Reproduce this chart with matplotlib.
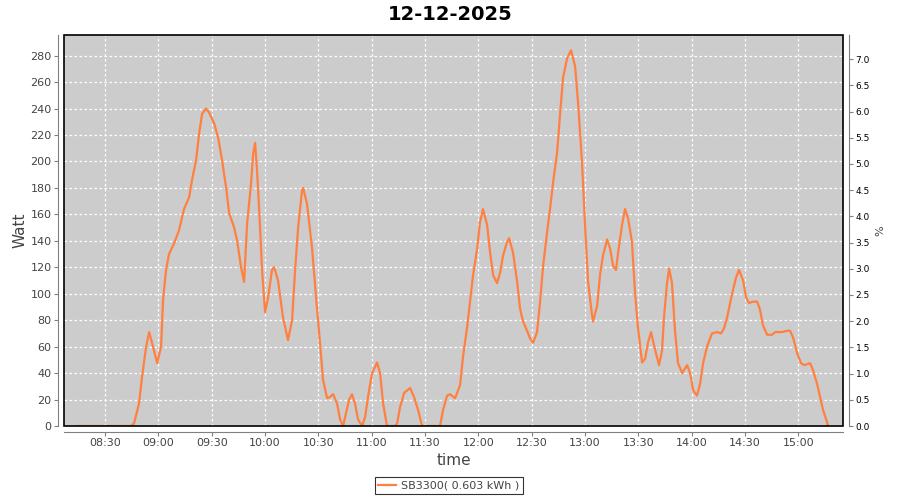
import matplotlib
matplotlib.use("Agg")
import matplotlib.pyplot as plt
from matplotlib.patches import Rectangle
from matplotlib.ticker import FuncFormatter, MultipleLocator
import numpy as np

title = "12-12-2025"
series_label = "SB3300( 0.603 kWh )"

# minutes after 08:00 and power in Watt
minutes = [
    14.3, 40.7, 44.6, 46.3, 49.1, 50.8, 53.1, 54.8, 56.4, 59.3, 61.5, 62.6,
    64.3, 66.0, 68.8, 71.6, 74.4, 77.3, 78.9, 81.2, 82.9, 84.6, 86.8, 88.5,
    91.3, 93.6, 95.8, 98.1, 99.8, 102.6, 104.3, 106.5, 108.2, 109.9, 112.1,
    113.3, 114.4, 115.5, 117.2, 118.3, 120.0, 121.7, 123.9, 125.1, 127.3,
    130.1, 132.9, 135.2, 136.9, 138.6, 140.8, 141.4, 143.6, 146.4, 148.7,
    150.9, 152.6, 154.9, 156.6, 158.3, 160.5, 162.2, 163.9, 165.6, 167.3,
    168.9, 170.6, 172.3, 174.6, 176.3, 177.9, 180.2, 183.0, 184.7, 186.4,
    188.6, 193.1, 194.3, 195.9, 198.2, 201.6, 203.8, 206.1, 208.3, 218.4,
    220.1, 222.4, 224.1, 226.9, 229.7, 231.4, 233.6, 235.3, 237.0, 239.3,
    240.9, 242.6, 244.9, 246.6, 248.3, 250.5, 252.2, 253.9, 256.1, 257.3,
    259.5, 261.8, 263.4, 265.1, 267.4, 269.1, 270.8, 273.0, 274.7, 276.4,
    278.6, 280.3, 282.0, 284.3, 285.9, 287.6, 289.9, 292.1, 294.4, 296.1,
    298.3, 300.0, 301.7, 303.9, 304.5, 306.8, 308.4, 310.1, 312.4, 314.1,
    315.8, 317.4, 318.6, 320.8, 322.5, 324.2, 326.4, 328.1, 329.8, 332.1,
    333.8, 335.4, 337.1, 338.8, 340.5, 341.6, 343.3, 344.4, 346.1, 347.3,
    348.9, 350.6, 352.3, 354.6, 357.4, 359.1, 360.8, 363.0, 364.7, 366.4,
    368.6, 371.4, 374.3, 376.5, 378.2, 379.9, 382.7, 384.9, 386.6, 388.9,
    390.6, 392.3, 394.5, 396.8, 398.4, 400.1, 402.4, 405.2, 406.9, 410.8,
    413.6, 415.3, 417.0, 419.3, 421.5, 423.2, 426.6, 428.3, 430.5, 432.2,
    433.9, 436.1, 436.7,
]
watt = [
    0, 0, 0, 2, 17, 37, 60, 71, 63, 47.5, 60, 95,
    118, 130, 138, 148, 164, 173, 186, 201, 221, 236, 240, 237,
    229, 218, 201, 180, 161, 150, 140, 120, 109, 153, 183,
    206, 214, 193, 150, 118, 86, 97, 118, 120, 110,
    82, 65, 80, 118, 150, 178, 180, 168, 135, 97,
    63, 35, 21, 22, 24, 17, 5, 0, 10, 20,
    24, 17, 5, 0, 7, 22, 40, 48, 40, 17,
    0, 0, 2, 14, 25, 28.7, 22, 12, 0, 0,
    12, 23, 24, 21, 31, 53, 74, 94, 114, 134,
    154, 164, 152, 131, 114, 108, 116, 129, 139, 142,
    131, 109, 89, 79, 72, 66, 63, 71, 94, 121,
    146, 164, 184, 207, 235, 263, 278, 284, 272, 244,
    199, 152, 109, 84, 79, 91, 114, 129, 141, 134,
    121, 118, 131, 152, 164, 157, 139, 101, 74, 48,
    51, 63, 71, 61, 52, 46, 57, 82, 108, 119,
    108, 72, 47.5, 40, 46, 40, 27, 23, 32, 47.5,
    60, 70, 71, 70, 74, 82, 100, 112, 118, 110,
    97, 93, 94, 94, 88, 76, 69, 69, 71, 71,
    72, 72, 67, 55, 47.5, 46, 47.5, 42, 32, 22,
    12, 3, 0,
]

x_ticks = list(range(30, 421, 30))  # 08:30 .. 15:00

plt.rcParams["font.family"] = "DejaVu Sans"

fig = plt.figure(figsize=(9, 5), dpi=100)
ax = fig.add_axes([64 / 900, 1 - 426 / 500, (843 - 64) / 900, (426 - 35) / 500])
ax.set_facecolor("#cccccc")

ax.plot(minutes, watt, color="#ff8040", lw=1.6, label=series_label, zorder=3)

ax.set_xlim(6.9, 445.1)
ax.set_ylim(0, 295.6)
ax.set_xticks(x_ticks)
ax.xaxis.set_major_formatter(FuncFormatter(lambda v, p: "%02d:%02d" % (8 + int(v) // 60, int(v) % 60)))
ax.yaxis.set_major_locator(MultipleLocator(20))
ax.grid(True, color="white", ls=(0, (2, 2)), lw=0.9)
ax.set_axisbelow(True)

grey = "#808080"
for side in ["left", "bottom"]:
    ax.spines[side].set_position(("outward", 4))
    ax.spines[side].set_color(grey)
for side in ["top", "right"]:
    ax.spines[side].set_visible(False)
ax.tick_params(colors=grey, labelcolor="#444444", labelsize=8, length=3, width=0.8, pad=2)

ax.add_patch(Rectangle((0, 0), 1, 1, transform=ax.transAxes, fill=False,
                       ec="black", lw=1.2, zorder=4, clip_on=False))

ax.set_ylabel("Watt", fontsize=11, color="#444444", labelpad=2)
ax.set_xlabel("time", fontsize=11, color="#444444", labelpad=3)

ax2 = ax.twinx()
ax2.set_ylim(0, 7.46)
ax2.yaxis.set_major_locator(MultipleLocator(0.5))
ax2.yaxis.set_major_formatter(FuncFormatter(lambda v, p: "%.1f" % v))
for side in ["left", "bottom", "top"]:
    ax2.spines[side].set_visible(False)
ax2.spines["right"].set_position(("outward", 4))
ax2.spines["right"].set_color(grey)
ax2.tick_params(colors=grey, labelcolor="black", labelsize=6.5, length=3, width=0.8, pad=2)
ax2.set_ylabel("%", fontsize=8, color="#444444", labelpad=4)

fig.suptitle(title, fontsize=14, fontweight="bold", y=0.99)

leg = fig.legend(loc="lower center", bbox_to_anchor=(0.4985, 0.0), ncol=1, fontsize=8,
                 frameon=True, fancybox=False, handlelength=1.6, borderpad=0.35,
                 handletextpad=0.4)
leg.get_frame().set_edgecolor("black")
leg.get_frame().set_linewidth(0.8)
for t in leg.get_texts():
    t.set_color("#444444")

fig.savefig("out.png", dpi=100)
